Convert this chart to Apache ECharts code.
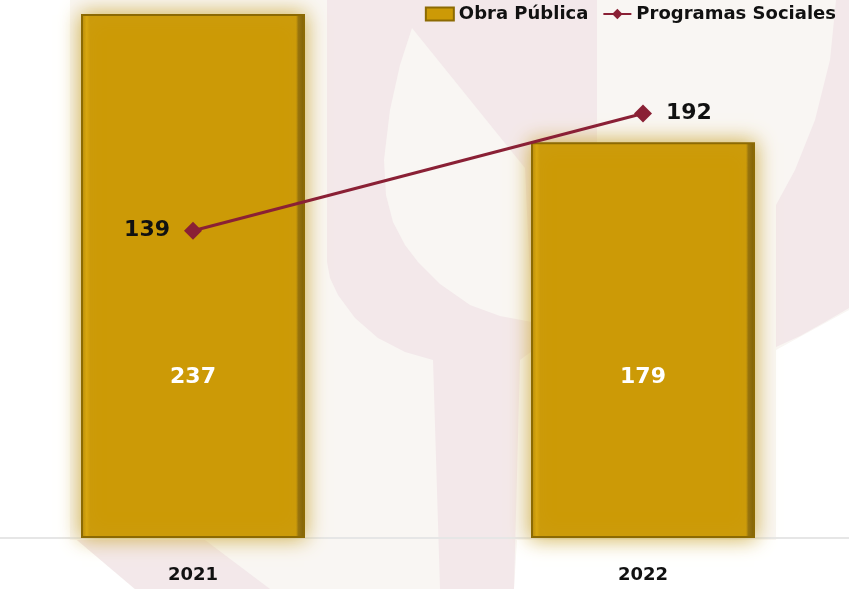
<!DOCTYPE html>
<html>
<head>
<meta charset="utf-8">
<script src="https://cdn.jsdelivr.net/npm/echarts@6/dist/echarts.min.js"></script>
<style>
  html, body { margin: 0; padding: 0; background: #ffffff; }
  #chart { width: 849px; height: 589px; }
</style>
</head>
<body>
<div id="chart"></div>
<script>
// datos
const years = ['2021', '2022']
const obraPublica = [237, 179]
const programasSociales = [139, 192]

const gold = '#cc9a06'
const wine = '#8a2035'
const pink = '#f3e8ea'
const offWhite = '#f9f6f3'
const font = 'DejaVu Sans'

// fondo (marca de agua)
const bgShape = (points, fill, z) => ({
  type: 'polygon', z: z, silent: true, shape: { points: points }, style: { fill: fill }
})
const background = [
  bgShape([[70, 0], [849, 0], [849, 310], [776, 350], [776, 540], [517, 540], [514, 589], [135, 589], [77, 540], [70, 540]], offWhite, -20),
  bgShape([[327, 0], [597, 0], [597, 200], [560, 200], [560, 330], [520, 360], [514, 589], [440, 589], [433, 360],
    [405, 352], [378, 338], [355, 318], [338, 295], [330, 278], [327, 262]], pink, -15),
  bgShape([[412, 28], [525, 168], [532, 322], [500, 316], [470, 305], [440, 284], [418, 262], [405, 245],
    [393, 222], [386, 195], [384, 160], [390, 110], [400, 65]], offWhite, -12),
  bgShape([[836, 0], [849, 0], [849, 308], [825, 322], [800, 336], [776, 347], [776, 205], [795, 170], [815, 120], [830, 60]], pink, -15),
  bgShape([[77, 540], [205, 540], [270, 589], [135, 589]], pink, -15)
]

// relleno con bisel: borde izquierdo claro, borde derecho oscuro
const barFill = new echarts.graphic.LinearGradient(0, 0, 1, 0, [
  { offset: 0, color: '#b08404' },
  { offset: 0.025, color: '#d9a60c' },
  { offset: 0.04, color: gold },
  { offset: 0.96, color: gold },
  { offset: 0.97, color: '#94700a' },
  { offset: 1, color: '#765900' }
])

const chart = echarts.init(document.getElementById('chart'))

const option = {
  backgroundColor: '#ffffff',
  animation: false,
  graphic: background,
  legend: {
    top: 0,
    right: 8,
    itemGap: 14,
    itemWidth: 28,
    itemHeight: 13,
    textStyle: { fontFamily: font, fontSize: 18, fontWeight: 'bold', color: '#111' },
    data: [
      { name: 'Obra Pública', icon: 'rect' },
      { name: 'Programas Sociales' }
    ]
  },
  grid: {
    left: -32,
    right: -19,
    top: 7.4,
    bottom: 51,
    outerBoundsMode: 'none'
  },
  xAxis: {
    type: 'category',
    data: years,
    axisTick: { show: false },
    axisLine: { lineStyle: { color: '#e6e6e6', width: 2 } },
    axisLabel: { margin: 28, fontFamily: font, fontSize: 18, fontWeight: 'bold', color: '#111' }
  },
  yAxis: {
    type: 'value',
    min: 0,
    max: 240,
    show: false,
    splitLine: { show: false }
  },
  series: [
    {
      name: 'Obra Pública',
      type: 'bar',
      data: obraPublica,
      barWidth: 224,
      itemStyle: {
        color: barFill,
        borderColor: '#8c6a03',
        borderWidth: 2,
        shadowBlur: 20,
        shadowColor: 'rgba(206, 172, 64, 1)'
      },
      label: {
        show: true,
        position: 'insideBottom',
        distance: 150,
        color: '#ffffff',
        fontFamily: font,
        fontSize: 22,
        fontWeight: 'bold'
      }
    },
    {
      name: 'Programas Sociales',
      type: 'line',
      // etiquetas: izquierda para 2021, derecha para 2022
      data: programasSociales.map((v, i) => ({
        value: v,
        label: { position: i === 0 ? 'left' : 'right', distance: 14 }
      })),
      symbol: 'diamond',
      symbolSize: 18,
      lineStyle: { color: wine, width: 3 },
      itemStyle: { color: wine },
      label: {
        show: true,
        fontFamily: font,
        fontSize: 22,
        fontWeight: 'bold',
        color: '#111'
      }
    }
  ]
}

chart.setOption(option)
window.addEventListener('resize', () => chart.resize())
</script>
</body>
</html>
